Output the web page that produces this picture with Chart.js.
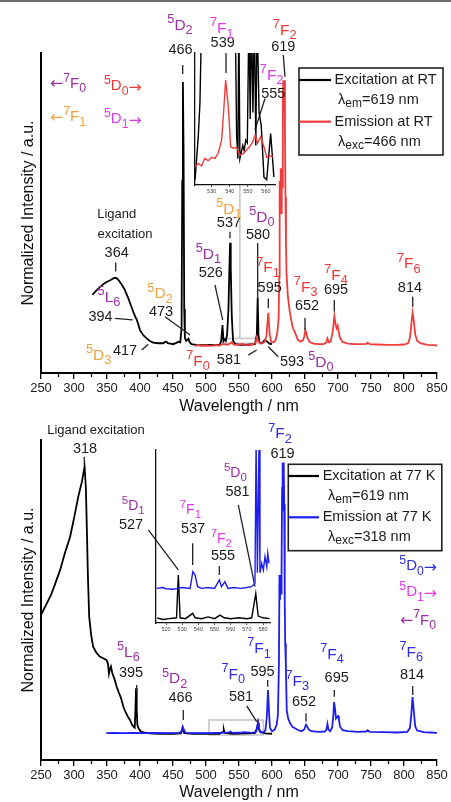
<!DOCTYPE html>
<html><head><meta charset="utf-8">
<script src="https://cdn.jsdelivr.net/npm/chart.js@4/dist/chart.umd.min.js"></script>
<style>
html,body{margin:0;padding:0;background:#fff;}
#wrap{position:relative;width:451px;height:802px;overflow:hidden;background:#fff;}
#wrap canvas{position:absolute;}
#sep{position:absolute;left:0;top:0;width:451px;height:2px;background:#6a6a6a;}
</style></head><body>
<div id="wrap">
<div id="sep"></div>
<canvas id="cTop" width="451" height="416" style="left:0;top:0"></canvas>
<canvas id="cTopInset" width="100" height="160" style="left:180px;top:40px"></canvas>
<canvas id="cBot" width="451" height="386" style="left:0;top:416px"></canvas>
<canvas id="cBotInset" width="130" height="200" style="left:146px;top:440px"></canvas>
</div>
<script>
// ================= DATA =================
const mainTicks = [250,300,350,400,450,500,550,600,650,700,750,800,850];
const minorTicks = [275,325,375,425,475,525,575,625,675,725,775,825];
const topInsetTicks = [530,540,550,560];
const botInsetTicks = [520,530,540,550,560,570,580];

// [wavelength nm, normalized intensity]
const rtExcitation = [[328,0.244],[334,0.258],[340,0.27],[346,0.28],[350,0.285],[355,0.29],[359,0.295],[362,0.298],[365,0.296],[368,0.289],[372,0.277],[377,0.26],[382,0.235],[387,0.207],[390,0.19],[392,0.18],[394,0.17],[395,0.168],[397,0.155],[400,0.134],[405,0.118],[410,0.108],[415,0.1],[420,0.095],[428,0.093],[435,0.093],[438,0.097],[440,0.098],[442,0.093],[446,0.092],[450,0.09],[455,0.094],[458,0.098],[461,0.096],[463,0.14],[464,0.6],[465,0.909],[466,0.7],[467,0.2],[468,0.11],[470,0.1],[472,0.104],[473.5,0.107],[475,0.097],[478,0.09],[485,0.088],[495,0.087],[505,0.088],[515,0.087],[521,0.089],[523,0.1],[525,0.15],[526.5,0.1],[528,0.105],[530,0.1],[532,0.12],[534,0.2],[535.5,0.33],[536.5,0.407],[537.5,0.33],[539,0.18],[541,0.1],[545,0.09],[552,0.088],[560,0.088],[568,0.089],[574,0.09],[577,0.12],[578.3,0.235],[579.5,0.12],[581,0.095],[584,0.093],[587,0.098],[589,0.103],[591,0.1],[593,0.098],[596,0.092],[600,0.09]];
const rtEmission = [[483,0.085],[488,0.087],[493,0.085],[500,0.086],[507,0.085],[514,0.087],[520,0.086],[524,0.089],[527,0.091],[531,0.088],[535,0.09],[539,0.096],[542,0.089],[548,0.088],[555,0.091],[560,0.088],[566,0.087],[572,0.09],[575,0.095],[577,0.112],[579,0.1],[582,0.092],[586,0.093],[589,0.098],[591.5,0.115],[594.4,0.188],[596.5,0.12],[599,0.097],[602,0.096],[605,0.1],[608,0.125],[610,0.17],[611,0.3],[611.6,0.6],[612.4,0.52],[613.2,0.64],[614,0.5],[614.8,0.64],[615.6,0.58],[616.4,0.85],[617.2,0.915],[618,0.82],[618.8,0.915],[619.6,0.75],[620.4,0.55],[621.2,0.4],[622,0.31],[624,0.24],[627,0.19],[631,0.145],[635,0.125],[639,0.105],[643,0.098],[647,0.102],[649,0.115],[650.5,0.134],[652,0.125],[654,0.108],[657,0.097],[663,0.092],[670,0.09],[678,0.09],[682,0.095],[684,0.108],[686,0.096],[689,0.098],[692,0.13],[694.5,0.178],[696.5,0.15],[698,0.14],[699.5,0.148],[701,0.13],[703,0.11],[707,0.097],[715,0.092],[725,0.09],[735,0.09],[743,0.091],[745,0.095],[748,0.09],[760,0.089],[775,0.088],[790,0.088],[800,0.089],[806,0.093],[809,0.11],[811,0.15],[813,0.188],[815,0.16],[817,0.12],[820,0.1],[825,0.093],[835,0.088],[845,0.087],[850,0.086]];
const rtInsetExcitation = [[520.8,0.04],[522.6,0.37],[523.5,0.62],[524.5,1.3],[543,1.3],[543.8,0.37],[544.5,0.2],[545,1.3],[545.6,0.2],[546.4,0.25],[547.2,0.3],[548,0.26],[548.8,0.34],[549.7,0.32],[550.6,1.3],[551.3,0.5],[552,1.3],[552.8,0.55],[553.6,1.3],[554.4,0.3],[555.1,1.3],[556.2,0.55],[557.4,0.45],[558.9,0.06],[560.4,0.04],[562.6,0.39],[564.4,0.06]];
const rtInsetEmission = [[520.8,0.139],[522.6,0.164],[524.4,0.144],[526.2,0.202],[528.1,0.184],[530,0.21],[531.8,0.202],[533.6,0.24],[535.5,0.341],[536.8,0.593],[537.7,0.795],[539.2,0.593],[540.5,0.29],[542,0.278],[543.8,0.285],[545.6,0.227],[547.5,0.24],[549.3,0.265],[551.2,0.295],[552.7,0.328],[554,0.379],[555.3,0.316],[557.1,0.366],[558.9,0.29],[560.4,0.21],[562.2,0.22],[564,0.215]];

const lnExcitation = [[250,0.453],[255,0.474],[259,0.49],[265,0.515],[271,0.548],[279,0.594],[286,0.645],[294,0.697],[300,0.755],[306.5,0.823],[312,0.87],[316,0.917],[318,0.85],[319.5,0.72],[321,0.58],[323,0.448],[326,0.39],[329,0.354],[334,0.335],[339,0.323],[345,0.317],[349.5,0.312],[351.5,0.3],[353,0.27],[354.5,0.285],[356,0.292],[358,0.272],[361,0.255],[364.7,0.229],[368,0.21],[371,0.195],[374.7,0.167],[378,0.15],[381,0.138],[384.8,0.125],[388,0.11],[390,0.104],[392,0.101],[393,0.15],[394,0.224],[395,0.16],[396,0.11],[398,0.098],[401,0.09],[405,0.086],[415,0.083],[430,0.082],[450,0.082],[462,0.083],[464.7,0.1],[467,0.084],[480,0.082],[500,0.082],[520,0.082],[526,0.088],[527,0.094],[528,0.085],[540,0.082],[560,0.083],[574,0.084],[577.5,0.1],[578.8,0.116],[580,0.1],[582,0.088],[590,0.083],[600,0.082]];
const lnEmission = [[349,0.084],[360,0.085],[375,0.084],[390,0.085],[405,0.084],[420,0.085],[440,0.084],[460,0.085],[463,0.09],[464.7,0.104],[466.5,0.095],[469,0.085],[485,0.084],[500,0.084],[520,0.085],[535,0.086],[537,0.089],[540,0.085],[555,0.086],[558,0.087],[570,0.085],[576,0.088],[578.8,0.116],[580.5,0.095],[583,0.086],[587,0.087],[590,0.092],[592,0.13],[594,0.219],[595.5,0.15],[597,0.1],[600,0.09],[604,0.095],[607,0.11],[609,0.14],[610.5,0.3],[611.3,0.578],[612.1,0.5],[612.9,0.578],[613.7,0.52],[614.5,0.6],[615.3,0.85],[616.1,0.93],[616.9,0.78],[617.7,0.93],[618.5,0.8],[619.3,0.5],[620,0.365],[621,0.3],[622.3,0.156],[624.5,0.13],[627.3,0.115],[631,0.104],[634.8,0.099],[640,0.093],[645,0.09],[649,0.096],[651.5,0.11],[653.5,0.104],[656,0.094],[660,0.09],[670,0.088],[680,0.089],[682.5,0.095],[684,0.113],[685.5,0.096],[688,0.09],[691,0.1],[693,0.14],[694,0.181],[695.5,0.16],[697,0.13],[698.5,0.135],[700,0.1375],[701.5,0.125],[703,0.105],[707,0.093],[715,0.09],[730,0.088],[743,0.089],[745,0.093],[748,0.088],[770,0.087],[790,0.086],[805,0.088],[809,0.1],[811,0.14],[813,0.197],[815,0.15],[817,0.105],[820,0.092],[830,0.087],[840,0.086],[850,0.085]];
const lnInsetExcitation = [[514.5,0.03],[518,0.02],[522,0.025],[526.5,0.03],[527.6,0.277],[528.7,0.03],[532,0.025],[536.5,0.056],[538,0.03],[542,0.025],[546,0.035],[550,0.025],[553.4,0.046],[556,0.03],[560,0.025],[565,0.03],[570,0.025],[573,0.03],[575.5,0.17],[577,0.04],[580,0.03],[584,0.025]];
const lnInsetEmission = [[514.2,0.2],[518,0.205],[520,0.198],[524.5,0.195],[527,0.2],[530,0.205],[534.9,0.2],[536.6,0.297],[538,0.277],[539.5,0.21],[542,0.2],[546,0.205],[550,0.2],[553,0.249],[554.3,0.21],[556.4,0.239],[558.3,0.2],[562,0.205],[566,0.2],[570,0.205],[572.9,0.21],[575,0.229],[575.7,1.05],[576.5,0.29],[577.5,1.05],[578.1,0.29],[579.2,0.345],[580.2,0.306],[581.2,0.383],[582.3,0.326],[582.9,0.403],[583.7,0.345]];

// ================= STYLE / ANNOTATIONS =================
const FONT = '"Liberation Sans", Arial, Helvetica, sans-serif';
const PURPLE = '#9b2ea3', MAGENTA = '#e23ae3', ORANGE = '#f2a23c', RED = '#ee3838', BLUE = '#2f2fe0', TXT = '#1c1c1c';
const LINE_RED = '#f23b3b', LINE_BLUE = '#1e1ef0', LINE_BLACK = '#000';

// term labels: x (nm), y (intensity) of main letter centre
const topTerms = [
  {x:460.6,y:1.09,sup:'5',m:'D',sub:'2',c:PURPLE},
  {x:523.8,y:1.08,sup:'7',m:'F',sub:'1',c:MAGENTA},
  {x:619.2,y:1.075,sup:'7',m:'F',sub:'2',c:RED},
  {x:599.5,y:0.934,sup:'7',m:'F',sub:'2',c:MAGENTA},
  {x:353,y:0.24,sup:'5',m:'L',sub:'6',c:PURPLE},
  {x:337.4,y:0.059,sup:'5',m:'D',sub:'3',c:ORANGE},
  {x:430.3,y:0.2515,sup:'5',m:'D',sub:'2',c:ORANGE},
  {x:503.5,y:0.375,sup:'5',m:'D',sub:'1',c:PURPLE},
  {x:534.8,y:0.515,sup:'5',m:'D',sub:'1',c:ORANGE},
  {x:584.8,y:0.49,sup:'5',m:'D',sub:'0',c:PURPLE},
  {x:594,y:0.332,sup:'7',m:'F',sub:'1',c:RED},
  {x:651,y:0.272,sup:'7',m:'F',sub:'3',c:RED},
  {x:697,y:0.309,sup:'7',m:'F',sub:'4',c:RED},
  {x:807.1,y:0.345,sup:'7',m:'F',sub:'6',c:RED},
  {x:487.9,y:0.04,sup:'7',m:'F',sub:'0',c:RED},
  {x:674,y:0.0375,sup:'5',m:'D',sub:'0',c:PURPLE}
];
const topSideTerms = [
  {x:263.6,y:0.908,pre:'\u2190',sup:'7',m:'F',sub:'0',c:PURPLE},
  {x:345.5,y:0.9,sup:'5',m:'D',sub:'0',post:'\u2192',c:RED},
  {x:263.6,y:0.803,pre:'\u2190',sup:'7',m:'F',sub:'1',c:ORANGE},
  {x:345.5,y:0.797,sup:'5',m:'D',sub:'1',post:'\u2192',c:MAGENTA}
];
const topNumbers = [
  {x:461.4,y:1.009,t:'466'},{x:525.3,y:1.031,t:'539'},{x:617.1,y:1.02,t:'619'},{x:602,y:0.871,t:'555'},
  {x:364.7,y:0.494,t:'Ligand',s:13},{x:377.3,y:0.433,t:'excitation',s:13},{x:364.7,y:0.376,t:'364'},
  {x:340.2,y:0.176,t:'394'},{x:377.3,y:0.07,t:'417'},{x:431.8,y:0.192,t:'473'},{x:507.3,y:0.3125,t:'526'},
  {x:534.8,y:0.469,t:'537'},{x:578.8,y:0.431,t:'580'},{x:596.5,y:0.265,t:'595'},{x:653,y:0.209,t:'652'},
  {x:697,y:0.259,t:'695'},{x:809,y:0.265,t:'814'},{x:534.8,y:0.041,t:'581'},{x:630.3,y:0.035,t:'593'}
];
const topLeaders = [
  [464.7,0.9625,464.7,0.934],[530.3,1.0,530.3,0.9375],[617.1,0.994,619.7,0.926],[589.4,0.858,574.2,0.759],
  [363.2,0.345,363.2,0.317],[362.1,0.171,388.9,0.166],[402.6,0.072,412.6,0.09],[437.9,0.176,475.8,0.119],
  [513.6,0.275,525.3,0.166],[536.4,0.4416,536.4,0.421],[578.3,0.406,578.3,0.228],[594.4,0.233,594.4,0.202],
  [650,0.172,650,0.134],[694.4,0.228,694.4,0.192],[813.2,0.238,813.2,0.207],[564.1,0.056,576.8,0.072],
  [594.4,0.082,609.5,0.051]
];
const topZoom = {x0:526.2,x1:576.8,y0:0.093,y1:0.108,lx:551.3,ly:0.5875};

const botTerms = [
  {x:612.1,y:1.023,sup:'7',m:'F',sub:'2',c:BLUE},
  {x:544.5,y:0.901,sup:'5',m:'D',sub:'0',c:PURPLE,s:14},
  {x:389.8,y:0.797,sup:'5',m:'D',sub:'1',c:PURPLE,s:14},
  {x:476.3,y:0.784,sup:'7',m:'F',sub:'1',c:MAGENTA,s:14},
  {x:523.2,y:0.695,sup:'7',m:'F',sub:'2',c:MAGENTA,s:14},
  {x:382.3,y:0.34,sup:'5',m:'L',sub:'6',c:PURPLE},
  {x:452.5,y:0.258,sup:'5',m:'D',sub:'2',c:PURPLE},
  {x:541.4,y:0.272,sup:'7',m:'F',sub:'0',c:BLUE},
  {x:580.3,y:0.352,sup:'7',m:'F',sub:'1',c:BLUE},
  {x:638.4,y:0.25,sup:'7',m:'F',sub:'3',c:BLUE},
  {x:690.9,y:0.334,sup:'7',m:'F',sub:'4',c:BLUE},
  {x:811,y:0.34,sup:'7',m:'F',sub:'6',c:BLUE}
];
const botSideTerms = [
  {x:792.9,y:0.61,sup:'5',m:'D',sub:'0',post:'\u2192',c:BLUE},
  {x:792.9,y:0.528,sup:'5',m:'D',sub:'1',post:'\u2192',c:MAGENTA},
  {x:793.9,y:0.44,pre:'\u2190',sup:'7',m:'F',sub:'0',c:PURPLE}
];
const botNumbers = [
  {x:333.3,y:1.031,t:'Ligand excitation',s:13},{x:316.7,y:0.971,t:'318'},{x:615.9,y:0.956,t:'619'},
  {x:547.7,y:0.838,t:'581'},{x:386.4,y:0.734,t:'527'},{x:480.3,y:0.721,t:'537'},{x:525.8,y:0.6375,t:'555'},
  {x:386.4,y:0.271,t:'395'},{x:461.4,y:0.193,t:'466'},{x:553,y:0.198,t:'581'},{x:585.6,y:0.276,t:'595'},
  {x:648.5,y:0.182,t:'652'},{x:698,y:0.257,t:'695'},{x:812.1,y:0.266,t:'814'}
];
const botLeaders = [
  [315.6,0.948,315.6,0.922],[548.9,0.797,574.2,0.5416],[412.6,0.719,458,0.594],[479.8,0.677,479.8,0.609],
  [520.2,0.606,520.2,0.578],[395,0.234,395,0.208],[465.6,0.156,465.6,0.125],[561.7,0.169,576.8,0.12],
  [593.5,0.25,593.5,0.229],[651.5,0.146,651.5,0.12],[694.4,0.219,694.4,0.198],[813.2,0.231,813.2,0.203]
];
const botZoom = {x0:504.5,x1:586.8,y0:0.078,y1:0.125};

const topLegend = {x:299,y:68,w:144,h:87,rows:[
  {color:LINE_BLACK,y:80,label:'Excitation at RT',lam:{y:99.5,sub:'em',rest:'=619 nm'}},
  {color:LINE_RED,y:121.7,label:'Emission at RT',lam:{y:141.7,sub:'exc',rest:'=466 nm'}}],lineX1:331,textX:334.5,lamX:338};
const botLegend = {x:288.3,y:48.3,w:153.5,h:86.4,rows:[
  {color:LINE_BLACK,y:60,label:'Excitation at 77 K',lam:{y:79.7,sub:'em',rest:'=619 nm'}},
  {color:LINE_BLUE,y:101.3,label:'Emission at 77 K',lam:{y:120.7,sub:'exc',rest:'=318 nm'}}],lineX1:319,textX:322.7,lamX:328};

// ================= DRAWING HELPERS =================
function drawTerm(ctx, px, py, t, size, align) {
  const sm = size * 0.82;
  const parts = [];
  if (t.pre) parts.push({s:t.pre, f:size*1.05, dy:0.02*size, fam:'"DejaVu Sans", ' + FONT});
  parts.push({s:t.sup, f:sm, dy:-0.42*size});
  parts.push({s:t.m, f:size, dy:0});
  parts.push({s:t.sub, f:sm, dy:0.3*size});
  if (t.post) parts.push({s:t.post, f:size*1.05, dy:0.1*size, fam:'"DejaVu Sans", ' + FONT});
  let total = 0;
  parts.forEach(p => { ctx.font = p.f + 'px ' + (p.fam || FONT); p.w = ctx.measureText(p.s).width; total += p.w; });
  let x = align === 'left' ? px : px - total/2;
  const base = py + 0.36*size;
  ctx.fillStyle = t.c; ctx.textAlign = 'left'; ctx.textBaseline = 'alphabetic';
  parts.forEach(p => { ctx.font = p.f + 'px ' + (p.fam || FONT); ctx.fillText(p.s, x, base + p.dy); x += p.w; });
}
function drawLegend(ctx, L) {
  ctx.save();
  ctx.strokeStyle = '#222'; ctx.lineWidth = 1.6;
  ctx.strokeRect(L.x, L.y, L.w, L.h);
  L.rows.forEach(r => {
    ctx.strokeStyle = r.color; ctx.lineWidth = 2.2;
    ctx.beginPath(); ctx.moveTo(L.x, r.y); ctx.lineTo(L.lineX1, r.y); ctx.stroke();
    ctx.fillStyle = TXT; ctx.textBaseline = 'middle'; ctx.textAlign = 'left';
    ctx.font = '14.5px ' + FONT; ctx.fillText(r.label, L.textX, r.y);
    let x = L.lamX;
    ctx.font = '14.5px ' + FONT; ctx.fillText('\u03bb', x, r.lam.y); x += ctx.measureText('\u03bb').width;
    ctx.font = '12px ' + FONT; ctx.fillText(r.lam.sub, x, r.lam.y + 4); x += ctx.measureText(r.lam.sub).width;
    ctx.font = '14.5px ' + FONT; ctx.fillText(r.lam.rest, x, r.lam.y);
  });
  ctx.restore();
}
function annPlugin(A) {
  return {
    id: 'annotations',
    beforeDatasetsDraw(chart) {
      const {ctx, scales:{x, y}} = chart; const z = A.zoom;
      ctx.save(); ctx.strokeStyle = '#c4c4c4'; ctx.lineWidth = 1.5;
      const X0 = x.getPixelForValue(z.x0), X1 = x.getPixelForValue(z.x1), Y0 = y.getPixelForValue(z.y0), Y1 = y.getPixelForValue(z.y1);
      ctx.strokeRect(X0, Y1, X1 - X0, Y0 - Y1);
      if (z.lx) { ctx.beginPath(); ctx.moveTo(x.getPixelForValue(z.lx), Y1); ctx.lineTo(x.getPixelForValue(z.lx), y.getPixelForValue(z.ly)); ctx.stroke(); }
      ctx.restore();
    },
    afterDraw(chart) {
      const {ctx, scales:{x, y}, chartArea} = chart;
      ctx.save();
      ctx.strokeStyle = '#000'; ctx.lineWidth = 1.2;
      minorTicks.forEach(v => { const px = Math.round(x.getPixelForValue(v)) + 0.5; ctx.beginPath(); ctx.moveTo(px, chartArea.bottom); ctx.lineTo(px, chartArea.bottom + 4); ctx.stroke(); });
      ctx.strokeStyle = '#222'; ctx.lineWidth = 1.3;
      A.leaders.forEach(l => { ctx.beginPath(); ctx.moveTo(x.getPixelForValue(l[0]), y.getPixelForValue(l[1])); ctx.lineTo(x.getPixelForValue(l[2]), y.getPixelForValue(l[3])); ctx.stroke(); });
      A.numbers.forEach(n => { ctx.font = (n.s || 14.5) + 'px ' + FONT; ctx.fillStyle = TXT; ctx.textAlign = 'center'; ctx.textBaseline = 'middle'; ctx.fillText(n.t, x.getPixelForValue(n.x), y.getPixelForValue(n.y)); });
      A.terms.forEach(t => drawTerm(ctx, x.getPixelForValue(t.x), y.getPixelForValue(t.y), t, t.s || 15.5, 'center'));
      A.side.forEach(t => drawTerm(ctx, x.getPixelForValue(t.x), y.getPixelForValue(t.y), t, 15, 'left'));
      drawLegend(ctx, A.legend);
      ctx.restore();
    }
  };
}
const pts = arr => arr.map(([x, y]) => ({x, y}));

function mainChart(id, datasets, pad, xH, A) {
  return new Chart(document.getElementById(id), {
    type: 'line',
    data: {datasets},
    options: {
      responsive: false, animation: false, events: [],
      layout: {padding: pad},
      elements: {point: {radius: 0}, line: {tension: 0}},
      plugins: {legend: {display: false}, tooltip: {enabled: false}},
      scales: {
        x: {type: 'linear', min: 250, max: 850,
          afterBuildTicks: s => { s.ticks = mainTicks.map(v => ({value: v})); },
          afterFit: s => { s.height = xH; },
          ticks: {font: {size: 13, family: FONT}, color: '#222', padding: 2, maxRotation: 0, autoSkip: false},
          grid: {display: true, drawOnChartArea: false, drawTicks: true, tickLength: 6, color: '#000', lineWidth: 1.3},
          border: {display: true, color: '#000', width: 2},
          title: {display: true, text: 'Wavelength / nm', font: {size: 16, family: FONT}, color: '#111', padding: {top: 0, bottom: 0}}},
        y: {type: 'linear', min: 0, max: 1,
          afterFit: s => { s.width = 41; },
          ticks: {display: false}, grid: {display: false},
          border: {display: true, color: '#000', width: 2},
          title: {display: true, text: 'Normalized Intensity / a.u.', font: {size: 16, family: FONT}, color: '#111', padding: {top: 19, bottom: 0}}}
      }
    },
    plugins: [annPlugin(A)]
  });
}
function insetChart(id, datasets, pad, xH, xmin, xmax, ticks) {
  return new Chart(document.getElementById(id), {
    type: 'line',
    data: {datasets},
    options: {
      responsive: false, animation: false, events: [],
      layout: {padding: pad},
      elements: {point: {radius: 0}, line: {tension: 0}},
      plugins: {legend: {display: false}, tooltip: {enabled: false}},
      scales: {
        x: {type: 'linear', min: xmin, max: xmax,
          afterBuildTicks: s => { s.ticks = ticks.map(v => ({value: v})); },
          afterFit: s => { s.height = xH; },
          ticks: {font: {size: 5.5, family: FONT}, color: '#444', padding: 1, maxRotation: 0, autoSkip: false},
          grid: {display: true, drawOnChartArea: false, drawTicks: true, tickLength: 2, color: '#222', lineWidth: 0.8},
          border: {display: true, color: '#111', width: 1.3}},
        y: {type: 'linear', min: 0, max: 1,
          afterFit: s => { s.width = 0; },
          ticks: {display: false}, grid: {display: false},
          border: {display: true, color: '#111', width: 1.3}}
      }
    }
  });
}

mainChart('cTop', [
  {label: 'Emission at RT', data: pts(rtEmission), borderColor: LINE_RED, borderWidth: 1.8, order: 0},
  {label: 'Excitation at RT', data: pts(rtExcitation), borderColor: LINE_BLACK, borderWidth: 1.8, order: 1}
], {left: 0, top: 53, right: 14, bottom: 0}, 43,
  {zoom: topZoom, leaders: topLeaders, numbers: topNumbers, terms: topTerms, side: topSideTerms, legend: topLegend});

insetChart('cTopInset', [
  {label: 'Emission at RT', data: pts(rtInsetEmission), borderColor: LINE_RED, borderWidth: 1.4, order: 0},
  {label: 'Excitation at RT', data: pts(rtInsetExcitation), borderColor: LINE_BLACK, borderWidth: 1.4, order: 1}
], {left: 14.5, top: 13, right: 5, bottom: 5}, 10, 520.5, 565, topInsetTicks);

mainChart('cBot', [
  {label: 'Emission at 77 K', data: pts(lnEmission), borderColor: LINE_BLUE, borderWidth: 1.8, order: 0},
  {label: 'Excitation at 77 K', data: pts(lnExcitation), borderColor: LINE_BLACK, borderWidth: 1.8, order: 1}
], {left: 0, top: 24, right: 14, bottom: 0}, 42,
  {zoom: botZoom, leaders: botLeaders, numbers: botNumbers, terms: botTerms, side: botSideTerms, legend: botLegend});

insetChart('cBotInset', [
  {label: 'Emission at 77 K', data: pts(lnInsetEmission), borderColor: LINE_BLUE, borderWidth: 1.4, order: 0},
  {label: 'Excitation at 77 K', data: pts(lnInsetExcitation), borderColor: LINE_BLACK, borderWidth: 1.4, order: 1}
], {left: 10, top: 10, right: 6, bottom: 5}, 12, 513.8, 584.3, botInsetTicks);
</script>
</body></html>
